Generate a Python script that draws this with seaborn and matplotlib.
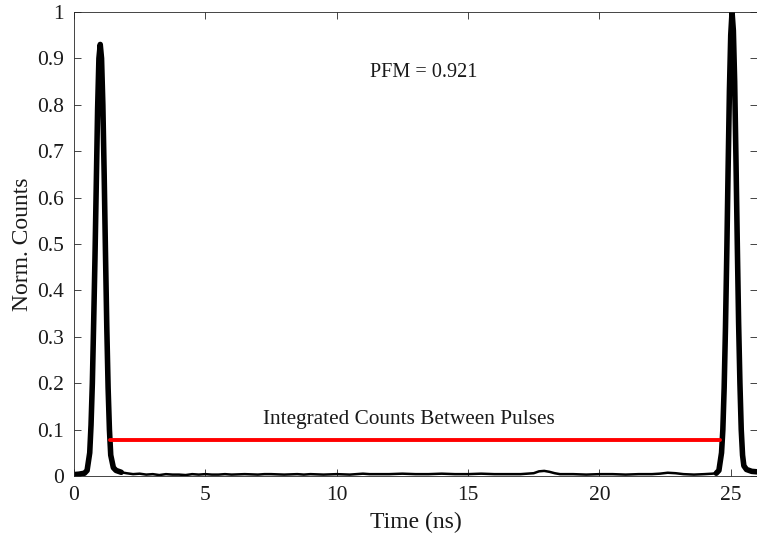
import numpy as np
import pandas as pd
import matplotlib
matplotlib.use("Agg")
import matplotlib.pyplot as plt
import seaborn as sns

# first pulse (ns, normalised counts)
pulse1_t = [0.0, 0.2, 0.4, 0.5, 0.6, 0.65, 0.7, 0.75, 0.8, 0.85, 0.9, 0.95, 1.0,
            1.05, 1.1, 1.15, 1.2, 1.25, 1.3, 1.35, 1.4, 1.5, 1.6, 1.8]
pulse1_y = [0.003, 0.004, 0.006, 0.012, 0.05, 0.11, 0.2, 0.33, 0.47, 0.63, 0.79, 0.9, 0.93,
            0.9, 0.8, 0.65, 0.48, 0.32, 0.19, 0.1, 0.045, 0.018, 0.012, 0.008]

# flat region between the pulses
base_t = [2.0, 2.25, 2.5, 2.75, 3.0, 3.25, 3.5, 3.75, 4.0, 4.25, 4.5, 4.75, 5.0, 5.25, 5.5,
          5.75, 6.0, 6.5, 7.0, 7.25, 7.5, 8.0, 8.5, 8.75, 9.0, 9.5, 10.0, 10.5, 11.0, 11.25,
          11.5, 12.0, 12.5, 13.0, 13.5, 14.0, 14.5, 15.0, 15.5, 16.0, 16.5, 17.0, 17.5,
          17.7, 17.9, 18.1, 18.3, 18.5, 19.0, 19.5, 20.0, 20.5, 21.0, 21.5, 22.0, 22.3,
          22.6, 22.9, 23.2, 23.6, 24.0, 24.3]
base_y = [0.006, 0.004, 0.005, 0.003, 0.004, 0.002, 0.004, 0.003, 0.003, 0.002, 0.004, 0.003,
          0.004, 0.003, 0.003, 0.004, 0.003, 0.004, 0.003, 0.004, 0.004, 0.003, 0.004, 0.003,
          0.004, 0.003, 0.004, 0.003, 0.005, 0.004, 0.004, 0.004, 0.005, 0.004, 0.004, 0.005,
          0.004, 0.004, 0.005, 0.004, 0.004, 0.004, 0.006, 0.010, 0.011, 0.009, 0.006, 0.004,
          0.004, 0.003, 0.004, 0.004, 0.003, 0.004, 0.004, 0.005, 0.007, 0.006, 0.004, 0.003,
          0.004, 0.005]

# second pulse
pulse2_t = [24.45, 24.55, 24.65, 24.7, 24.75, 24.8, 24.85, 24.9, 24.95, 25.0, 25.05,
            25.1, 25.15, 25.2, 25.25, 25.3, 25.35, 25.4, 25.45, 25.5, 25.6, 25.8, 26.0]
pulse2_y = [0.006, 0.012, 0.05, 0.1, 0.19, 0.32, 0.48, 0.66, 0.83, 0.95, 1.0,
            0.96, 0.85, 0.68, 0.5, 0.33, 0.2, 0.1, 0.045, 0.022, 0.014, 0.01, 0.009]

# integration window marker
window_t = [1.37, 24.58]
window_y = [0.078, 0.078]

sns.set_theme(style="white")
plt.rcParams['font.family'] = ['Liberation Serif', 'DejaVu Serif']

fig = plt.figure(figsize=(7.57, 5.37), dpi=100)
ax = fig.add_axes([0.0977, 0.1136, 0.9023, 0.8641])

df1 = pd.DataFrame({"t": pulse1_t, "y": pulse1_y})
df2 = pd.DataFrame({"t": pulse2_t, "y": pulse2_y})
dfb = pd.DataFrame({"t": [pulse1_t[-1]] + base_t + [pulse2_t[0]],
                    "y": [pulse1_y[-1]] + base_y + [pulse2_y[0]]})
dfw = pd.DataFrame({"t": window_t, "y": window_y})

sns.lineplot(data=dfb, x="t", y="y", ax=ax, color="black", lw=1.8, sort=False)
sns.lineplot(data=df1, x="t", y="y", ax=ax, color="black", lw=4, sort=False)
sns.lineplot(data=df2, x="t", y="y", ax=ax, color="black", lw=4, sort=False)
sns.lineplot(data=dfw, x="t", y="y", ax=ax, color="#ff0000", lw=2.8, sort=False)

ax.text(12.75, 0.122, "Integrated Counts Between Pulses", fontsize=15.3,
        ha="center", va="center", color="#1a1a1a")
ax.text(13.3, 0.87, "PFM = 0.921", fontsize=14.6, ha="center", va="center",
        color="#1a1a1a")

ax.set_xlim(0, 26)
ax.set_ylim(0, 1)
ax.set_xticks([0, 5, 10, 15, 20, 25])
ax.set_yticks(np.round(np.arange(0, 1.01, 0.1), 1))
ax.set_yticklabels(["0", "0.1", "0.2", "0.3", "0.4", "0.5", "0.6", "0.7", "0.8", "0.9", "1"])
ax.set_xlabel("Time (ns)", fontsize=17, color="#1a1a1a", labelpad=5)
ax.set_ylabel("Norm. Counts", fontsize=17, color="#1a1a1a", labelpad=3)
ax.tick_params(direction="in", length=5, width=0.6, colors="#262626",
               labelcolor="#1a1a1a", labelsize=15.5, top=True, right=True,
               bottom=True, left=True)
ax.tick_params(axis="x", pad=7)
ax.tick_params(axis="y", pad=7)
for s in ax.spines.values():
    s.set_color("#262626")
    s.set_linewidth(0.6)

fig.savefig("out.png", dpi=100)
